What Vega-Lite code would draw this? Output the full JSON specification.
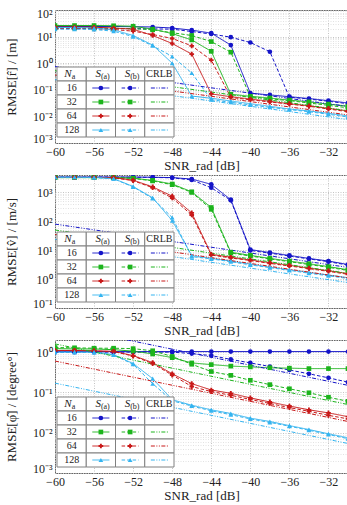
{
"$schema": "https://vega.github.io/schema/vega-lite/v6.json",
"padding": {"left": 4, "top": 4, "right": 1, "bottom": 2},
"bounds": "flush",
"spacing": 32,
"config": {
  "font": "Liberation Serif",
  "view": {"stroke": "#666", "strokeWidth": 1},
  "axis": {"labelFont": "Liberation Serif", "labelFontSize": 12, "labelColor": "#222", "titleFont": "Liberation Serif", "titleFontSize": 13, "titleFontWeight": "normal", "titleColor": "#222", "domain": false, "ticks": false, "gridDash": [1, 1.5], "labelFlush": false, "labelOverlap": false},
  "axisX": {"labelPadding": 3, "titlePadding": 2},
  "axisY": {"labelPadding": 3, "titlePadding": 14, "labelFlush": true, "labelFlushOffset": 2},
  "text": {"font": "Liberation Serif", "color": "#222"}
},
"resolve": {"scale": {"x": "independent", "y": "independent"}},
"datasets": {
"cells": [
{"row":"h","col":"Na"},{"row":"h","col":"Sa"},{"row":"h","col":"Sb"},{"row":"h","col":"CRLB"},
{"row":"16","col":"Na"},{"row":"16","col":"Sa"},{"row":"16","col":"Sb"},{"row":"16","col":"CRLB"},
{"row":"32","col":"Na"},{"row":"32","col":"Sa"},{"row":"32","col":"Sb"},{"row":"32","col":"CRLB"},
{"row":"64","col":"Na"},{"row":"64","col":"Sa"},{"row":"64","col":"Sb"},{"row":"64","col":"CRLB"},
{"row":"128","col":"Na"},{"row":"128","col":"Sa"},{"row":"128","col":"Sb"},{"row":"128","col":"CRLB"}
],
"legl": [
{"Na":16,"m":"Sa","col":"Sa","row":"16","end":"l"},{"Na":16,"m":"Sa","col":"Sa","row":"16","end":"r"},
{"Na":16,"m":"Sb","col":"Sb","row":"16","end":"l"},{"Na":16,"m":"Sb","col":"Sb","row":"16","end":"r"},
{"Na":16,"m":"CRLB","col":"CRLB","row":"16","end":"l"},{"Na":16,"m":"CRLB","col":"CRLB","row":"16","end":"r"},
{"Na":32,"m":"Sa","col":"Sa","row":"32","end":"l"},{"Na":32,"m":"Sa","col":"Sa","row":"32","end":"r"},
{"Na":32,"m":"Sb","col":"Sb","row":"32","end":"l"},{"Na":32,"m":"Sb","col":"Sb","row":"32","end":"r"},
{"Na":32,"m":"CRLB","col":"CRLB","row":"32","end":"l"},{"Na":32,"m":"CRLB","col":"CRLB","row":"32","end":"r"},
{"Na":64,"m":"Sa","col":"Sa","row":"64","end":"l"},{"Na":64,"m":"Sa","col":"Sa","row":"64","end":"r"},
{"Na":64,"m":"Sb","col":"Sb","row":"64","end":"l"},{"Na":64,"m":"Sb","col":"Sb","row":"64","end":"r"},
{"Na":64,"m":"CRLB","col":"CRLB","row":"64","end":"l"},{"Na":64,"m":"CRLB","col":"CRLB","row":"64","end":"r"},
{"Na":128,"m":"Sa","col":"Sa","row":"128","end":"l"},{"Na":128,"m":"Sa","col":"Sa","row":"128","end":"r"},
{"Na":128,"m":"Sb","col":"Sb","row":"128","end":"l"},{"Na":128,"m":"Sb","col":"Sb","row":"128","end":"r"},
{"Na":128,"m":"CRLB","col":"CRLB","row":"128","end":"l"},{"Na":128,"m":"CRLB","col":"CRLB","row":"128","end":"r"}
],
"legt": [
{"row":"h","col":"Na","t":"N","s":"a"},{"row":"h","col":"Sa","t":"S","s":"(a)"},{"row":"h","col":"Sb","t":"S","s":"(b)"},{"row":"h","col":"CRLB","c":"CRLB"},
{"row":"16","col":"Na","c":"16"},{"row":"32","col":"Na","c":"32"},{"row":"64","col":"Na","c":"64"},{"row":"128","col":"Na","c":"128"}
],
"p1": [
{"Na":16,"m":"Sa","x":-60,"v":24},{"Na":16,"m":"Sa","x":-58,"v":24},{"Na":16,"m":"Sa","x":-56,"v":24},{"Na":16,"m":"Sa","x":-54,"v":24},{"Na":16,"m":"Sa","x":-52,"v":23.5},{"Na":16,"m":"Sa","x":-50,"v":23},{"Na":16,"m":"Sa","x":-48,"v":21},{"Na":16,"m":"Sa","x":-46,"v":17.5},{"Na":16,"m":"Sa","x":-44,"v":13.5},{"Na":16,"m":"Sa","x":-42,"v":4.8},{"Na":16,"m":"Sa","x":-40,"v":0.075},{"Na":16,"m":"Sa","x":-38,"v":0.064},{"Na":16,"m":"Sa","x":-36,"v":0.055},{"Na":16,"m":"Sa","x":-34,"v":0.047},{"Na":16,"m":"Sa","x":-32,"v":0.039},{"Na":16,"m":"Sa","x":-30,"v":0.032},
{"Na":16,"m":"Sb","x":-60,"v":20},{"Na":16,"m":"Sb","x":-58,"v":20},{"Na":16,"m":"Sb","x":-56,"v":20},{"Na":16,"m":"Sb","x":-54,"v":20},{"Na":16,"m":"Sb","x":-52,"v":20},{"Na":16,"m":"Sb","x":-50,"v":19.5},{"Na":16,"m":"Sb","x":-48,"v":19},{"Na":16,"m":"Sb","x":-46,"v":15.5},{"Na":16,"m":"Sb","x":-44,"v":12.5},{"Na":16,"m":"Sb","x":-42,"v":9.5},{"Na":16,"m":"Sb","x":-40,"v":6},{"Na":16,"m":"Sb","x":-38,"v":2.7},{"Na":16,"m":"Sb","x":-36,"v":0.053},{"Na":16,"m":"Sb","x":-34,"v":0.045},{"Na":16,"m":"Sb","x":-32,"v":0.037},{"Na":16,"m":"Sb","x":-30,"v":0.030},
{"Na":32,"m":"Sa","x":-60,"v":26},{"Na":32,"m":"Sa","x":-58,"v":26},{"Na":32,"m":"Sa","x":-56,"v":26},{"Na":32,"m":"Sa","x":-54,"v":25.5},{"Na":32,"m":"Sa","x":-52,"v":24.5},{"Na":32,"m":"Sa","x":-50,"v":19},{"Na":32,"m":"Sa","x":-48,"v":13},{"Na":32,"m":"Sa","x":-46,"v":7.5},{"Na":32,"m":"Sa","x":-44,"v":2.8},{"Na":32,"m":"Sa","x":-42,"v":0.068},{"Na":32,"m":"Sa","x":-40,"v":0.057},{"Na":32,"m":"Sa","x":-38,"v":0.049},{"Na":32,"m":"Sa","x":-36,"v":0.041},{"Na":32,"m":"Sa","x":-34,"v":0.035},{"Na":32,"m":"Sa","x":-32,"v":0.029},{"Na":32,"m":"Sa","x":-30,"v":0.024},
{"Na":32,"m":"Sb","x":-60,"v":21},{"Na":32,"m":"Sb","x":-58,"v":21},{"Na":32,"m":"Sb","x":-56,"v":21},{"Na":32,"m":"Sb","x":-54,"v":20.5},{"Na":32,"m":"Sb","x":-52,"v":20},{"Na":32,"m":"Sb","x":-50,"v":18},{"Na":32,"m":"Sb","x":-48,"v":14},{"Na":32,"m":"Sb","x":-46,"v":11},{"Na":32,"m":"Sb","x":-44,"v":6.5},{"Na":32,"m":"Sb","x":-42,"v":2.6},{"Na":32,"m":"Sb","x":-40,"v":0.055},{"Na":32,"m":"Sb","x":-38,"v":0.046},{"Na":32,"m":"Sb","x":-36,"v":0.039},{"Na":32,"m":"Sb","x":-34,"v":0.032},{"Na":32,"m":"Sb","x":-32,"v":0.026},{"Na":32,"m":"Sb","x":-30,"v":0.021},
{"Na":64,"m":"Sa","x":-60,"v":23},{"Na":64,"m":"Sa","x":-58,"v":23},{"Na":64,"m":"Sa","x":-56,"v":22.5},{"Na":64,"m":"Sa","x":-54,"v":21},{"Na":64,"m":"Sa","x":-52,"v":19},{"Na":64,"m":"Sa","x":-50,"v":11},{"Na":64,"m":"Sa","x":-48,"v":5.5},{"Na":64,"m":"Sa","x":-46,"v":2.2},{"Na":64,"m":"Sa","x":-44,"v":0.07},{"Na":64,"m":"Sa","x":-42,"v":0.055},{"Na":64,"m":"Sa","x":-40,"v":0.045},{"Na":64,"m":"Sa","x":-38,"v":0.037},{"Na":64,"m":"Sa","x":-36,"v":0.030},{"Na":64,"m":"Sa","x":-34,"v":0.025},{"Na":64,"m":"Sa","x":-32,"v":0.020},{"Na":64,"m":"Sa","x":-30,"v":0.016},
{"Na":64,"m":"Sb","x":-60,"v":20},{"Na":64,"m":"Sb","x":-58,"v":20},{"Na":64,"m":"Sb","x":-56,"v":19.5},{"Na":64,"m":"Sb","x":-54,"v":18.5},{"Na":64,"m":"Sb","x":-52,"v":16},{"Na":64,"m":"Sb","x":-50,"v":12},{"Na":64,"m":"Sb","x":-48,"v":8.5},{"Na":64,"m":"Sb","x":-46,"v":4.5},{"Na":64,"m":"Sb","x":-44,"v":1.3},{"Na":64,"m":"Sb","x":-42,"v":0.052},{"Na":64,"m":"Sb","x":-40,"v":0.042},{"Na":64,"m":"Sb","x":-38,"v":0.035},{"Na":64,"m":"Sb","x":-36,"v":0.029},{"Na":64,"m":"Sb","x":-34,"v":0.024},{"Na":64,"m":"Sb","x":-32,"v":0.019},{"Na":64,"m":"Sb","x":-30,"v":0.015},
{"Na":128,"m":"Sa","x":-60,"v":22},{"Na":128,"m":"Sa","x":-58,"v":22},{"Na":128,"m":"Sa","x":-56,"v":21},{"Na":128,"m":"Sa","x":-54,"v":18},{"Na":128,"m":"Sa","x":-52,"v":11},{"Na":128,"m":"Sa","x":-50,"v":4.8},{"Na":128,"m":"Sa","x":-48,"v":1.0},{"Na":128,"m":"Sa","x":-46,"v":0.058},{"Na":128,"m":"Sa","x":-44,"v":0.048},{"Na":128,"m":"Sa","x":-42,"v":0.038},{"Na":128,"m":"Sa","x":-40,"v":0.030},{"Na":128,"m":"Sa","x":-38,"v":0.024},{"Na":128,"m":"Sa","x":-36,"v":0.019},{"Na":128,"m":"Sa","x":-34,"v":0.016},{"Na":128,"m":"Sa","x":-32,"v":0.013},{"Na":128,"m":"Sa","x":-30,"v":0.0105},
{"Na":128,"m":"Sb","x":-60,"v":19},{"Na":128,"m":"Sb","x":-58,"v":19},{"Na":128,"m":"Sb","x":-56,"v":18.5},{"Na":128,"m":"Sb","x":-54,"v":16},{"Na":128,"m":"Sb","x":-52,"v":10},{"Na":128,"m":"Sb","x":-50,"v":4.5},{"Na":128,"m":"Sb","x":-48,"v":1.8},{"Na":128,"m":"Sb","x":-46,"v":0.43},{"Na":128,"m":"Sb","x":-44,"v":0.042},{"Na":128,"m":"Sb","x":-42,"v":0.034},{"Na":128,"m":"Sb","x":-40,"v":0.027},{"Na":128,"m":"Sb","x":-38,"v":0.022},{"Na":128,"m":"Sb","x":-36,"v":0.018},{"Na":128,"m":"Sb","x":-34,"v":0.015},{"Na":128,"m":"Sb","x":-32,"v":0.012},{"Na":128,"m":"Sb","x":-30,"v":0.0095},
{"Na":16,"m":"CRLB","x":-60,"v":0.75},{"Na":16,"m":"CRLB","x":-30,"v":0.0237},
{"Na":32,"m":"CRLB","x":-60,"v":0.52},{"Na":32,"m":"CRLB","x":-30,"v":0.0164},
{"Na":64,"m":"CRLB","x":-60,"v":0.36},{"Na":64,"m":"CRLB","x":-30,"v":0.0114},
{"Na":128,"m":"CRLB","x":-60,"v":0.24},{"Na":128,"m":"CRLB","x":-30,"v":0.0076}
],
"p2": [
{"Na":16,"m":"Sa","x":-60,"v":3400},{"Na":16,"m":"Sa","x":-58,"v":3400},{"Na":16,"m":"Sa","x":-56,"v":3400},{"Na":16,"m":"Sa","x":-54,"v":3400},{"Na":16,"m":"Sa","x":-52,"v":3400},{"Na":16,"m":"Sa","x":-50,"v":3350},{"Na":16,"m":"Sa","x":-48,"v":3250},{"Na":16,"m":"Sa","x":-46,"v":2900},{"Na":16,"m":"Sa","x":-44,"v":1900},{"Na":16,"m":"Sa","x":-42,"v":560},{"Na":16,"m":"Sa","x":-40,"v":10.5},{"Na":16,"m":"Sa","x":-38,"v":8.3},{"Na":16,"m":"Sa","x":-36,"v":6.6},{"Na":16,"m":"Sa","x":-34,"v":5.2},{"Na":16,"m":"Sa","x":-32,"v":4.2},{"Na":16,"m":"Sa","x":-30,"v":3.2},
{"Na":16,"m":"Sb","x":-60,"v":3400},{"Na":16,"m":"Sb","x":-58,"v":3400},{"Na":16,"m":"Sb","x":-56,"v":3400},{"Na":16,"m":"Sb","x":-54,"v":3400},{"Na":16,"m":"Sb","x":-52,"v":3350},{"Na":16,"m":"Sb","x":-50,"v":3300},{"Na":16,"m":"Sb","x":-48,"v":3200},{"Na":16,"m":"Sb","x":-46,"v":2700},{"Na":16,"m":"Sb","x":-44,"v":1450},{"Na":16,"m":"Sb","x":-42,"v":530},{"Na":16,"m":"Sb","x":-40,"v":9.8},{"Na":16,"m":"Sb","x":-38,"v":7.9},{"Na":16,"m":"Sb","x":-36,"v":6.3},{"Na":16,"m":"Sb","x":-34,"v":5.0},{"Na":16,"m":"Sb","x":-32,"v":4.0},{"Na":16,"m":"Sb","x":-30,"v":3.05},
{"Na":32,"m":"Sa","x":-60,"v":3250},{"Na":32,"m":"Sa","x":-58,"v":3250},{"Na":32,"m":"Sa","x":-56,"v":3250},{"Na":32,"m":"Sa","x":-54,"v":3250},{"Na":32,"m":"Sa","x":-52,"v":3100},{"Na":32,"m":"Sa","x":-50,"v":2600},{"Na":32,"m":"Sa","x":-48,"v":1950},{"Na":32,"m":"Sa","x":-46,"v":1050},{"Na":32,"m":"Sa","x":-44,"v":300},{"Na":32,"m":"Sa","x":-42,"v":8.5},{"Na":32,"m":"Sa","x":-40,"v":6.6},{"Na":32,"m":"Sa","x":-38,"v":5.2},{"Na":32,"m":"Sa","x":-36,"v":4.2},{"Na":32,"m":"Sa","x":-34,"v":3.4},{"Na":32,"m":"Sa","x":-32,"v":2.7},{"Na":32,"m":"Sa","x":-30,"v":2.1},
{"Na":32,"m":"Sb","x":-60,"v":3250},{"Na":32,"m":"Sb","x":-58,"v":3250},{"Na":32,"m":"Sb","x":-56,"v":3250},{"Na":32,"m":"Sb","x":-54,"v":3250},{"Na":32,"m":"Sb","x":-52,"v":3050},{"Na":32,"m":"Sb","x":-50,"v":2500},{"Na":32,"m":"Sb","x":-48,"v":1850},{"Na":32,"m":"Sb","x":-46,"v":1000},{"Na":32,"m":"Sb","x":-44,"v":260},{"Na":32,"m":"Sb","x":-42,"v":8.0},{"Na":32,"m":"Sb","x":-40,"v":6.3},{"Na":32,"m":"Sb","x":-38,"v":5.0},{"Na":32,"m":"Sb","x":-36,"v":4.0},{"Na":32,"m":"Sb","x":-34,"v":3.2},{"Na":32,"m":"Sb","x":-32,"v":2.55},{"Na":32,"m":"Sb","x":-30,"v":2.0},
{"Na":64,"m":"Sa","x":-60,"v":3300},{"Na":64,"m":"Sa","x":-58,"v":3300},{"Na":64,"m":"Sa","x":-56,"v":3300},{"Na":64,"m":"Sa","x":-54,"v":3250},{"Na":64,"m":"Sa","x":-52,"v":2650},{"Na":64,"m":"Sa","x":-50,"v":1550},{"Na":64,"m":"Sa","x":-48,"v":740},{"Na":64,"m":"Sa","x":-46,"v":195},{"Na":64,"m":"Sa","x":-44,"v":7.2},{"Na":64,"m":"Sa","x":-42,"v":5.7},{"Na":64,"m":"Sa","x":-40,"v":4.6},{"Na":64,"m":"Sa","x":-38,"v":3.7},{"Na":64,"m":"Sa","x":-36,"v":3.0},{"Na":64,"m":"Sa","x":-34,"v":2.4},{"Na":64,"m":"Sa","x":-32,"v":1.95},{"Na":64,"m":"Sa","x":-30,"v":1.55},
{"Na":64,"m":"Sb","x":-60,"v":3300},{"Na":64,"m":"Sb","x":-58,"v":3300},{"Na":64,"m":"Sb","x":-56,"v":3300},{"Na":64,"m":"Sb","x":-54,"v":3200},{"Na":64,"m":"Sb","x":-52,"v":2550},{"Na":64,"m":"Sb","x":-50,"v":1450},{"Na":64,"m":"Sb","x":-48,"v":640},{"Na":64,"m":"Sb","x":-46,"v":165},{"Na":64,"m":"Sb","x":-44,"v":6.8},{"Na":64,"m":"Sb","x":-42,"v":5.4},{"Na":64,"m":"Sb","x":-40,"v":4.4},{"Na":64,"m":"Sb","x":-38,"v":3.5},{"Na":64,"m":"Sb","x":-36,"v":2.85},{"Na":64,"m":"Sb","x":-34,"v":2.3},{"Na":64,"m":"Sb","x":-32,"v":1.85},{"Na":64,"m":"Sb","x":-30,"v":1.47},
{"Na":128,"m":"Sa","x":-60,"v":3350},{"Na":128,"m":"Sa","x":-58,"v":3350},{"Na":128,"m":"Sa","x":-56,"v":3300},{"Na":128,"m":"Sa","x":-54,"v":3000},{"Na":128,"m":"Sa","x":-52,"v":1600},{"Na":128,"m":"Sa","x":-50,"v":650},{"Na":128,"m":"Sa","x":-48,"v":105},{"Na":128,"m":"Sa","x":-46,"v":6.5},{"Na":128,"m":"Sa","x":-44,"v":5.2},{"Na":128,"m":"Sa","x":-42,"v":4.2},{"Na":128,"m":"Sa","x":-40,"v":3.3},{"Na":128,"m":"Sa","x":-38,"v":2.6},{"Na":128,"m":"Sa","x":-36,"v":2.1},{"Na":128,"m":"Sa","x":-34,"v":1.7},{"Na":128,"m":"Sa","x":-32,"v":1.38},{"Na":128,"m":"Sa","x":-30,"v":1.12},
{"Na":128,"m":"Sb","x":-60,"v":3350},{"Na":128,"m":"Sb","x":-58,"v":3350},{"Na":128,"m":"Sb","x":-56,"v":3300},{"Na":128,"m":"Sb","x":-54,"v":2950},{"Na":128,"m":"Sb","x":-52,"v":1550},{"Na":128,"m":"Sb","x":-50,"v":620},{"Na":128,"m":"Sb","x":-48,"v":135},{"Na":128,"m":"Sb","x":-46,"v":6.0},{"Na":128,"m":"Sb","x":-44,"v":5.0},{"Na":128,"m":"Sb","x":-42,"v":4.0},{"Na":128,"m":"Sb","x":-40,"v":3.1},{"Na":128,"m":"Sb","x":-38,"v":2.5},{"Na":128,"m":"Sb","x":-36,"v":2.0},{"Na":128,"m":"Sb","x":-34,"v":1.6},{"Na":128,"m":"Sb","x":-32,"v":1.3},{"Na":128,"m":"Sb","x":-30,"v":1.05},
{"Na":16,"m":"CRLB","x":-60,"v":80},{"Na":16,"m":"CRLB","x":-30,"v":2.53},
{"Na":32,"m":"CRLB","x":-60,"v":50},{"Na":32,"m":"CRLB","x":-30,"v":1.58},
{"Na":64,"m":"CRLB","x":-60,"v":35},{"Na":64,"m":"CRLB","x":-30,"v":1.1},
{"Na":128,"m":"CRLB","x":-60,"v":24},{"Na":128,"m":"CRLB","x":-30,"v":0.76}
],
"p3": [
{"Na":16,"m":"Sa","x":-60,"v":1.03},{"Na":16,"m":"Sa","x":-58,"v":1.03},{"Na":16,"m":"Sa","x":-56,"v":1.03},{"Na":16,"m":"Sa","x":-54,"v":1.03},{"Na":16,"m":"Sa","x":-52,"v":1.03},{"Na":16,"m":"Sa","x":-50,"v":1.03},{"Na":16,"m":"Sa","x":-48,"v":1.03},{"Na":16,"m":"Sa","x":-46,"v":1.03},{"Na":16,"m":"Sa","x":-44,"v":1.03},{"Na":16,"m":"Sa","x":-42,"v":1.03},{"Na":16,"m":"Sa","x":-40,"v":1.03},{"Na":16,"m":"Sa","x":-38,"v":1.03},{"Na":16,"m":"Sa","x":-36,"v":1.03},{"Na":16,"m":"Sa","x":-34,"v":1.03},{"Na":16,"m":"Sa","x":-32,"v":1.03},{"Na":16,"m":"Sa","x":-30,"v":1.03},
{"Na":16,"m":"Sb","x":-60,"v":1.0},{"Na":16,"m":"Sb","x":-58,"v":1.0},{"Na":16,"m":"Sb","x":-56,"v":1.0},{"Na":16,"m":"Sb","x":-54,"v":1.0},{"Na":16,"m":"Sb","x":-52,"v":1.0},{"Na":16,"m":"Sb","x":-50,"v":1.0},{"Na":16,"m":"Sb","x":-48,"v":1.0},{"Na":16,"m":"Sb","x":-46,"v":0.92},{"Na":16,"m":"Sb","x":-44,"v":0.82},{"Na":16,"m":"Sb","x":-42,"v":0.66},{"Na":16,"m":"Sb","x":-40,"v":0.54},{"Na":16,"m":"Sb","x":-38,"v":0.44},{"Na":16,"m":"Sb","x":-36,"v":0.36},{"Na":16,"m":"Sb","x":-34,"v":0.29},{"Na":16,"m":"Sb","x":-32,"v":0.23},{"Na":16,"m":"Sb","x":-30,"v":0.18},
{"Na":32,"m":"Sa","x":-60,"v":1.22},{"Na":32,"m":"Sa","x":-58,"v":1.2},{"Na":32,"m":"Sa","x":-56,"v":1.2},{"Na":32,"m":"Sa","x":-54,"v":1.15},{"Na":32,"m":"Sa","x":-52,"v":1.06},{"Na":32,"m":"Sa","x":-50,"v":0.9},{"Na":32,"m":"Sa","x":-48,"v":0.73},{"Na":32,"m":"Sa","x":-46,"v":0.54},{"Na":32,"m":"Sa","x":-44,"v":0.49},{"Na":32,"m":"Sa","x":-42,"v":0.45},{"Na":32,"m":"Sa","x":-40,"v":0.43},{"Na":32,"m":"Sa","x":-38,"v":0.41},{"Na":32,"m":"Sa","x":-36,"v":0.40},{"Na":32,"m":"Sa","x":-34,"v":0.39},{"Na":32,"m":"Sa","x":-32,"v":0.39},{"Na":32,"m":"Sa","x":-30,"v":0.39},
{"Na":32,"m":"Sb","x":-60,"v":1.3},{"Na":32,"m":"Sb","x":-58,"v":1.28},{"Na":32,"m":"Sb","x":-56,"v":1.25},{"Na":32,"m":"Sb","x":-54,"v":1.25},{"Na":32,"m":"Sb","x":-52,"v":1.22},{"Na":32,"m":"Sb","x":-50,"v":1.08},{"Na":32,"m":"Sb","x":-48,"v":0.78},{"Na":32,"m":"Sb","x":-46,"v":0.5},{"Na":32,"m":"Sb","x":-44,"v":0.33},{"Na":32,"m":"Sb","x":-42,"v":0.265},{"Na":32,"m":"Sb","x":-40,"v":0.2},{"Na":32,"m":"Sb","x":-38,"v":0.156},{"Na":32,"m":"Sb","x":-36,"v":0.123},{"Na":32,"m":"Sb","x":-34,"v":0.098},{"Na":32,"m":"Sb","x":-32,"v":0.076},{"Na":32,"m":"Sb","x":-30,"v":0.06},
{"Na":64,"m":"Sa","x":-60,"v":1.1},{"Na":64,"m":"Sa","x":-58,"v":1.1},{"Na":64,"m":"Sa","x":-56,"v":1.08},{"Na":64,"m":"Sa","x":-54,"v":1.05},{"Na":64,"m":"Sa","x":-52,"v":0.82},{"Na":64,"m":"Sa","x":-50,"v":0.55},{"Na":64,"m":"Sa","x":-48,"v":0.29},{"Na":64,"m":"Sa","x":-46,"v":0.165},{"Na":64,"m":"Sa","x":-44,"v":0.115},{"Na":64,"m":"Sa","x":-42,"v":0.095},{"Na":64,"m":"Sa","x":-40,"v":0.073},{"Na":64,"m":"Sa","x":-38,"v":0.058},{"Na":64,"m":"Sa","x":-36,"v":0.046},{"Na":64,"m":"Sa","x":-34,"v":0.037},{"Na":64,"m":"Sa","x":-32,"v":0.031},{"Na":64,"m":"Sa","x":-30,"v":0.025},
{"Na":64,"m":"Sb","x":-60,"v":1.08},{"Na":64,"m":"Sb","x":-58,"v":1.08},{"Na":64,"m":"Sb","x":-56,"v":1.06},{"Na":64,"m":"Sb","x":-54,"v":1.03},{"Na":64,"m":"Sb","x":-52,"v":0.8},{"Na":64,"m":"Sb","x":-50,"v":0.52},{"Na":64,"m":"Sb","x":-48,"v":0.27},{"Na":64,"m":"Sb","x":-46,"v":0.14},{"Na":64,"m":"Sb","x":-44,"v":0.105},{"Na":64,"m":"Sb","x":-42,"v":0.085},{"Na":64,"m":"Sb","x":-40,"v":0.067},{"Na":64,"m":"Sb","x":-38,"v":0.053},{"Na":64,"m":"Sb","x":-36,"v":0.042},{"Na":64,"m":"Sb","x":-34,"v":0.034},{"Na":64,"m":"Sb","x":-32,"v":0.027},{"Na":64,"m":"Sb","x":-30,"v":0.022},
{"Na":128,"m":"Sa","x":-60,"v":1.0},{"Na":128,"m":"Sa","x":-58,"v":1.0},{"Na":128,"m":"Sa","x":-56,"v":1.0},{"Na":128,"m":"Sa","x":-54,"v":0.87},{"Na":128,"m":"Sa","x":-52,"v":0.52},{"Na":128,"m":"Sa","x":-50,"v":0.22},{"Na":128,"m":"Sa","x":-48,"v":0.066},{"Na":128,"m":"Sa","x":-46,"v":0.048},{"Na":128,"m":"Sa","x":-44,"v":0.037},{"Na":128,"m":"Sa","x":-42,"v":0.030},{"Na":128,"m":"Sa","x":-40,"v":0.023},{"Na":128,"m":"Sa","x":-38,"v":0.019},{"Na":128,"m":"Sa","x":-36,"v":0.015},{"Na":128,"m":"Sa","x":-34,"v":0.012},{"Na":128,"m":"Sa","x":-32,"v":0.0094},{"Na":128,"m":"Sa","x":-30,"v":0.0075},
{"Na":128,"m":"Sb","x":-60,"v":1.0},{"Na":128,"m":"Sb","x":-58,"v":1.0},{"Na":128,"m":"Sb","x":-56,"v":0.98},{"Na":128,"m":"Sb","x":-54,"v":0.85},{"Na":128,"m":"Sb","x":-52,"v":0.5},{"Na":128,"m":"Sb","x":-50,"v":0.165},{"Na":128,"m":"Sb","x":-48,"v":0.062},{"Na":128,"m":"Sb","x":-46,"v":0.046},{"Na":128,"m":"Sb","x":-44,"v":0.035},{"Na":128,"m":"Sb","x":-42,"v":0.028},{"Na":128,"m":"Sb","x":-40,"v":0.022},{"Na":128,"m":"Sb","x":-38,"v":0.018},{"Na":128,"m":"Sb","x":-36,"v":0.0145},{"Na":128,"m":"Sb","x":-34,"v":0.0115},{"Na":128,"m":"Sb","x":-32,"v":0.009},{"Na":128,"m":"Sb","x":-30,"v":0.0071},
{"Na":16,"m":"CRLB","x":-60,"v":4.7},{"Na":16,"m":"CRLB","x":-30,"v":0.15},
{"Na":32,"m":"CRLB","x":-60,"v":1.6},{"Na":32,"m":"CRLB","x":-30,"v":0.05},
{"Na":64,"m":"CRLB","x":-60,"v":0.6},{"Na":64,"m":"CRLB","x":-30,"v":0.019},
{"Na":128,"m":"CRLB","x":-60,"v":0.17},{"Na":128,"m":"CRLB","x":-30,"v":0.0054}
]
},
"vconcat": [
{
 "width": 293, "height": 133,
 "resolve": {"scale": {"x": "independent", "y": "independent"}},
 "layer": [
  {"data": {"name": "p1"},
   "layer": [
    {"mark": {"type": "line", "clip": true, "strokeWidth": 1},
     "encoding": {
      "x": {"field": "x", "type": "quantitative", "scale": {"domain": [-60, -30], "nice": false, "zero": false}, "axis": {"values": [-60,-58,-56,-54,-52,-50,-48,-46,-44,-42,-40,-38,-36,-34,-32,-30], "labelExpr": "datum.value % 4 == 0 ? '−' + abs(datum.value) : ''", "title": "SNR_rad [dB]", "gridColor": {"condition": {"test": "datum.value % 4 == 0", "value": "#c4c4c4"}, "value": "#e2e2e2"}}},
      "y": {"field": "v", "type": "quantitative", "scale": {"type": "log", "domain": [0.001, 100], "nice": false}, "axis": {"values": [0.001,0.002,0.003,0.004,0.005,0.006,0.007,0.008,0.009,0.01,0.02,0.03,0.04,0.05,0.06,0.07,0.08,0.09,0.1,0.2,0.3,0.4,0.5,0.6,0.7,0.8,0.9,1,2,3,4,5,6,7,8,9,10,20,30,40,50,60,70,80,90,100], "labelExpr": "datum.value==100?'10²':datum.value==10?'10¹':datum.value==1?'10⁰':datum.value==0.1?'10⁻¹':datum.value==0.01?'10⁻²':datum.value==0.001?'10⁻³':''", "title": "RMSE[r̂]  /  [m]", "gridColor": {"condition": {"test": "indexof([0.001,0.01,0.1,1,10,100,1000], datum.value) >= 0", "value": "#c4c4c4"}, "value": "#e2e2e2"}}},
      "color": {"field": "Na", "type": "nominal", "scale": {"domain": [16, 32, 64, 128], "range": ["#1414c8", "#1cb41c", "#c81818", "#34b4f0"]}, "legend": null},
      "strokeDash": {"field": "m", "type": "nominal", "scale": {"domain": ["Sa", "Sb", "CRLB"], "range": [[1, 0], [3.5, 2], [4, 1.5, 1, 1.5, 1, 1.5]]}, "legend": null}
     }},
    {"transform": [{"filter": "datum.m != 'CRLB'"}],
     "mark": {"type": "point", "filled": true, "size": 22, "opacity": 1, "clip": true},
     "encoding": {
      "x": {"field": "x", "type": "quantitative"},
      "y": {"field": "v", "type": "quantitative"},
      "color": {"field": "Na", "type": "nominal", "legend": null},
      "shape": {"field": "Na", "type": "nominal", "scale": {"domain": [16, 32, 64, 128], "range": ["circle", "square", "cross", "triangle-up"]}, "legend": null}
     }}
   ]},
  {"data": {"name": "cells"}, "mark": {"type": "rect", "fill": "white", "fillOpacity": 1, "stroke": "#808080", "strokeWidth": 1, "width": 29.25, "height": 14},
   "encoding": {"x": {"field": "col", "type": "nominal", "scale": {"type": "band", "domain": ["Na", "Sa", "Sb", "CRLB"], "range": [2, 119], "paddingInner": 0, "paddingOuter": 0}, "axis": null},
                "y": {"field": "row", "type": "nominal", "scale": {"type": "band", "domain": ["h", "16", "32", "64", "128"], "range": [57, 127], "paddingInner": 0, "paddingOuter": 0}, "axis": null}}},
  {"data": {"name": "legl"}, "mark": {"type": "line", "strokeWidth": 1},
   "encoding": {"x": {"field": "col", "type": "nominal", "scale": {"type": "band", "domain": ["Na", "Sa", "Sb", "CRLB"], "range": [2, 119], "paddingInner": 0, "paddingOuter": 0}, "axis": null},
    "y": {"field": "row", "type": "nominal", "scale": {"type": "band", "domain": ["h", "16", "32", "64", "128"], "range": [57, 127], "paddingInner": 0, "paddingOuter": 0}, "axis": null},
    "xOffset": {"field": "end", "type": "nominal", "scale": {"type": "point", "padding": 0.36, "domain": ["l", "r"]}},
    "color": {"field": "Na", "type": "nominal", "legend": null},
    "strokeDash": {"field": "m", "type": "nominal", "legend": null}}},
  {"layer": [
    {"data": {"name": "legl"}, "transform": [{"filter": "datum.end == 'l' && datum.m != 'CRLB'"}], "mark": {"type": "point", "filled": true, "size": 22, "opacity": 1},
     "encoding": {"x": {"field": "col", "type": "nominal", "scale": {"type": "band", "domain": ["Na", "Sa", "Sb", "CRLB"], "range": [2, 119], "paddingInner": 0, "paddingOuter": 0}, "axis": null},
      "y": {"field": "row", "type": "nominal", "scale": {"type": "band", "domain": ["h", "16", "32", "64", "128"], "range": [57, 127], "paddingInner": 0, "paddingOuter": 0}, "axis": null},
      "color": {"field": "Na", "type": "nominal", "legend": null},
      "shape": {"field": "Na", "type": "nominal", "legend": null}}},
    {"data": {"name": "legt"}, "transform": [{"filter": "datum.t"}], "mark": {"type": "text", "align": "right", "dx": 0, "fontStyle": "italic", "fontSize": 11},
     "encoding": {"x": {"field": "col", "type": "nominal"}, "y": {"field": "row", "type": "nominal"}, "text": {"field": "t"}}},
    {"data": {"name": "legt"}, "transform": [{"filter": "datum.s"}], "mark": {"type": "text", "align": "left", "dx": 0, "dy": 3, "fontSize": 8},
     "encoding": {"x": {"field": "col", "type": "nominal"}, "y": {"field": "row", "type": "nominal"}, "text": {"field": "s"}}},
    {"data": {"name": "legt"}, "transform": [{"filter": "datum.c"}], "mark": {"type": "text", "align": "center", "fontSize": 10},
     "encoding": {"x": {"field": "col", "type": "nominal"}, "y": {"field": "row", "type": "nominal"}, "text": {"field": "c"}}}
  ]}
 ]
},
{
 "width": 293, "height": 133,
 "resolve": {"scale": {"x": "independent", "y": "independent"}},
 "layer": [
  {"data": {"name": "p2"},
   "layer": [
    {"mark": {"type": "line", "clip": true, "strokeWidth": 1},
     "encoding": {
      "x": {"field": "x", "type": "quantitative", "scale": {"domain": [-60, -30], "nice": false, "zero": false}, "axis": {"values": [-60,-58,-56,-54,-52,-50,-48,-46,-44,-42,-40,-38,-36,-34,-32,-30], "labelExpr": "datum.value % 4 == 0 ? '−' + abs(datum.value) : ''", "title": "SNR_rad [dB]", "gridColor": {"condition": {"test": "datum.value % 4 == 0", "value": "#c4c4c4"}, "value": "#e2e2e2"}}},
      "y": {"field": "v", "type": "quantitative", "scale": {"type": "log", "domain": [0.1, 4000], "nice": false}, "axis": {"values": [0.1,0.2,0.3,0.4,0.5,0.6,0.7,0.8,0.9,1,2,3,4,5,6,7,8,9,10,20,30,40,50,60,70,80,90,100,200,300,400,500,600,700,800,900,1000,2000,3000,4000], "labelExpr": "datum.value==1000?'10³':datum.value==100?'10²':datum.value==10?'10¹':datum.value==1?'10⁰':datum.value==0.1?'10⁻¹':''", "title": "RMSE[v̂]  /  [m/s]", "gridColor": {"condition": {"test": "indexof([0.001,0.01,0.1,1,10,100,1000], datum.value) >= 0", "value": "#c4c4c4"}, "value": "#e2e2e2"}}},
      "color": {"field": "Na", "type": "nominal", "scale": {"domain": [16, 32, 64, 128], "range": ["#1414c8", "#1cb41c", "#c81818", "#34b4f0"]}, "legend": null},
      "strokeDash": {"field": "m", "type": "nominal", "scale": {"domain": ["Sa", "Sb", "CRLB"], "range": [[1, 0], [3.5, 2], [4, 1.5, 1, 1.5, 1, 1.5]]}, "legend": null}
     }},
    {"transform": [{"filter": "datum.m != 'CRLB'"}],
     "mark": {"type": "point", "filled": true, "size": 22, "opacity": 1, "clip": true},
     "encoding": {
      "x": {"field": "x", "type": "quantitative"},
      "y": {"field": "v", "type": "quantitative"},
      "color": {"field": "Na", "type": "nominal", "legend": null},
      "shape": {"field": "Na", "type": "nominal", "scale": {"domain": [16, 32, 64, 128], "range": ["circle", "square", "cross", "triangle-up"]}, "legend": null}
     }}
   ]},
  {"data": {"name": "cells"}, "mark": {"type": "rect", "fill": "white", "fillOpacity": 1, "stroke": "#808080", "strokeWidth": 1, "width": 29.25, "height": 14},
   "encoding": {"x": {"field": "col", "type": "nominal", "scale": {"type": "band", "domain": ["Na", "Sa", "Sb", "CRLB"], "range": [2, 119], "paddingInner": 0, "paddingOuter": 0}, "axis": null},
                "y": {"field": "row", "type": "nominal", "scale": {"type": "band", "domain": ["h", "16", "32", "64", "128"], "range": [57, 127], "paddingInner": 0, "paddingOuter": 0}, "axis": null}}},
  {"data": {"name": "legl"}, "mark": {"type": "line", "strokeWidth": 1},
   "encoding": {"x": {"field": "col", "type": "nominal", "scale": {"type": "band", "domain": ["Na", "Sa", "Sb", "CRLB"], "range": [2, 119], "paddingInner": 0, "paddingOuter": 0}, "axis": null},
    "y": {"field": "row", "type": "nominal", "scale": {"type": "band", "domain": ["h", "16", "32", "64", "128"], "range": [57, 127], "paddingInner": 0, "paddingOuter": 0}, "axis": null},
    "xOffset": {"field": "end", "type": "nominal", "scale": {"type": "point", "padding": 0.36, "domain": ["l", "r"]}},
    "color": {"field": "Na", "type": "nominal", "legend": null},
    "strokeDash": {"field": "m", "type": "nominal", "legend": null}}},
  {"layer": [
    {"data": {"name": "legl"}, "transform": [{"filter": "datum.end == 'l' && datum.m != 'CRLB'"}], "mark": {"type": "point", "filled": true, "size": 22, "opacity": 1},
     "encoding": {"x": {"field": "col", "type": "nominal", "scale": {"type": "band", "domain": ["Na", "Sa", "Sb", "CRLB"], "range": [2, 119], "paddingInner": 0, "paddingOuter": 0}, "axis": null},
      "y": {"field": "row", "type": "nominal", "scale": {"type": "band", "domain": ["h", "16", "32", "64", "128"], "range": [57, 127], "paddingInner": 0, "paddingOuter": 0}, "axis": null},
      "color": {"field": "Na", "type": "nominal", "legend": null},
      "shape": {"field": "Na", "type": "nominal", "legend": null}}},
    {"data": {"name": "legt"}, "transform": [{"filter": "datum.t"}], "mark": {"type": "text", "align": "right", "dx": 0, "fontStyle": "italic", "fontSize": 11},
     "encoding": {"x": {"field": "col", "type": "nominal"}, "y": {"field": "row", "type": "nominal"}, "text": {"field": "t"}}},
    {"data": {"name": "legt"}, "transform": [{"filter": "datum.s"}], "mark": {"type": "text", "align": "left", "dx": 0, "dy": 3, "fontSize": 8},
     "encoding": {"x": {"field": "col", "type": "nominal"}, "y": {"field": "row", "type": "nominal"}, "text": {"field": "s"}}},
    {"data": {"name": "legt"}, "transform": [{"filter": "datum.c"}], "mark": {"type": "text", "align": "center", "fontSize": 10},
     "encoding": {"x": {"field": "col", "type": "nominal"}, "y": {"field": "row", "type": "nominal"}, "text": {"field": "c"}}}
  ]}
 ]
},
{
 "width": 293, "height": 133,
 "resolve": {"scale": {"x": "independent", "y": "independent"}},
 "layer": [
  {"data": {"name": "p3"},
   "layer": [
    {"mark": {"type": "line", "clip": true, "strokeWidth": 1},
     "encoding": {
      "x": {"field": "x", "type": "quantitative", "scale": {"domain": [-60, -30], "nice": false, "zero": false}, "axis": {"values": [-60,-58,-56,-54,-52,-50,-48,-46,-44,-42,-40,-38,-36,-34,-32,-30], "labelExpr": "datum.value % 4 == 0 ? '−' + abs(datum.value) : ''", "title": "SNR_rad [dB]", "gridColor": {"condition": {"test": "datum.value % 4 == 0", "value": "#c4c4c4"}, "value": "#e2e2e2"}}},
      "y": {"field": "v", "type": "quantitative", "scale": {"type": "log", "domain": [0.001, 2], "nice": false}, "axis": {"values": [0.001,0.002,0.003,0.004,0.005,0.006,0.007,0.008,0.009,0.01,0.02,0.03,0.04,0.05,0.06,0.07,0.08,0.09,0.1,0.2,0.3,0.4,0.5,0.6,0.7,0.8,0.9,1,2], "labelExpr": "datum.value==1?'10⁰':datum.value==0.1?'10⁻¹':datum.value==0.01?'10⁻²':datum.value==0.001?'10⁻³':''", "title": "RMSE[φ̂]  /  [degree°]", "gridColor": {"condition": {"test": "indexof([0.001,0.01,0.1,1,10,100,1000], datum.value) >= 0", "value": "#c4c4c4"}, "value": "#e2e2e2"}}},
      "color": {"field": "Na", "type": "nominal", "scale": {"domain": [16, 32, 64, 128], "range": ["#1414c8", "#1cb41c", "#c81818", "#34b4f0"]}, "legend": null},
      "strokeDash": {"field": "m", "type": "nominal", "scale": {"domain": ["Sa", "Sb", "CRLB"], "range": [[1, 0], [3.5, 2], [4, 1.5, 1, 1.5, 1, 1.5]]}, "legend": null}
     }},
    {"transform": [{"filter": "datum.m != 'CRLB'"}],
     "mark": {"type": "point", "filled": true, "size": 22, "opacity": 1, "clip": true},
     "encoding": {
      "x": {"field": "x", "type": "quantitative"},
      "y": {"field": "v", "type": "quantitative"},
      "color": {"field": "Na", "type": "nominal", "legend": null},
      "shape": {"field": "Na", "type": "nominal", "scale": {"domain": [16, 32, 64, 128], "range": ["circle", "square", "cross", "triangle-up"]}, "legend": null}
     }}
   ]},
  {"data": {"name": "cells"}, "mark": {"type": "rect", "fill": "white", "fillOpacity": 1, "stroke": "#808080", "strokeWidth": 1, "width": 29.25, "height": 14},
   "encoding": {"x": {"field": "col", "type": "nominal", "scale": {"type": "band", "domain": ["Na", "Sa", "Sb", "CRLB"], "range": [2, 119], "paddingInner": 0, "paddingOuter": 0}, "axis": null},
                "y": {"field": "row", "type": "nominal", "scale": {"type": "band", "domain": ["h", "16", "32", "64", "128"], "range": [57, 127], "paddingInner": 0, "paddingOuter": 0}, "axis": null}}},
  {"data": {"name": "legl"}, "mark": {"type": "line", "strokeWidth": 1},
   "encoding": {"x": {"field": "col", "type": "nominal", "scale": {"type": "band", "domain": ["Na", "Sa", "Sb", "CRLB"], "range": [2, 119], "paddingInner": 0, "paddingOuter": 0}, "axis": null},
    "y": {"field": "row", "type": "nominal", "scale": {"type": "band", "domain": ["h", "16", "32", "64", "128"], "range": [57, 127], "paddingInner": 0, "paddingOuter": 0}, "axis": null},
    "xOffset": {"field": "end", "type": "nominal", "scale": {"type": "point", "padding": 0.36, "domain": ["l", "r"]}},
    "color": {"field": "Na", "type": "nominal", "legend": null},
    "strokeDash": {"field": "m", "type": "nominal", "legend": null}}},
  {"layer": [
    {"data": {"name": "legl"}, "transform": [{"filter": "datum.end == 'l' && datum.m != 'CRLB'"}], "mark": {"type": "point", "filled": true, "size": 22, "opacity": 1},
     "encoding": {"x": {"field": "col", "type": "nominal", "scale": {"type": "band", "domain": ["Na", "Sa", "Sb", "CRLB"], "range": [2, 119], "paddingInner": 0, "paddingOuter": 0}, "axis": null},
      "y": {"field": "row", "type": "nominal", "scale": {"type": "band", "domain": ["h", "16", "32", "64", "128"], "range": [57, 127], "paddingInner": 0, "paddingOuter": 0}, "axis": null},
      "color": {"field": "Na", "type": "nominal", "legend": null},
      "shape": {"field": "Na", "type": "nominal", "legend": null}}},
    {"data": {"name": "legt"}, "transform": [{"filter": "datum.t"}], "mark": {"type": "text", "align": "right", "dx": 0, "fontStyle": "italic", "fontSize": 11},
     "encoding": {"x": {"field": "col", "type": "nominal"}, "y": {"field": "row", "type": "nominal"}, "text": {"field": "t"}}},
    {"data": {"name": "legt"}, "transform": [{"filter": "datum.s"}], "mark": {"type": "text", "align": "left", "dx": 0, "dy": 3, "fontSize": 8},
     "encoding": {"x": {"field": "col", "type": "nominal"}, "y": {"field": "row", "type": "nominal"}, "text": {"field": "s"}}},
    {"data": {"name": "legt"}, "transform": [{"filter": "datum.c"}], "mark": {"type": "text", "align": "center", "fontSize": 10},
     "encoding": {"x": {"field": "col", "type": "nominal"}, "y": {"field": "row", "type": "nominal"}, "text": {"field": "c"}}}
  ]}
 ]
}
]
}
